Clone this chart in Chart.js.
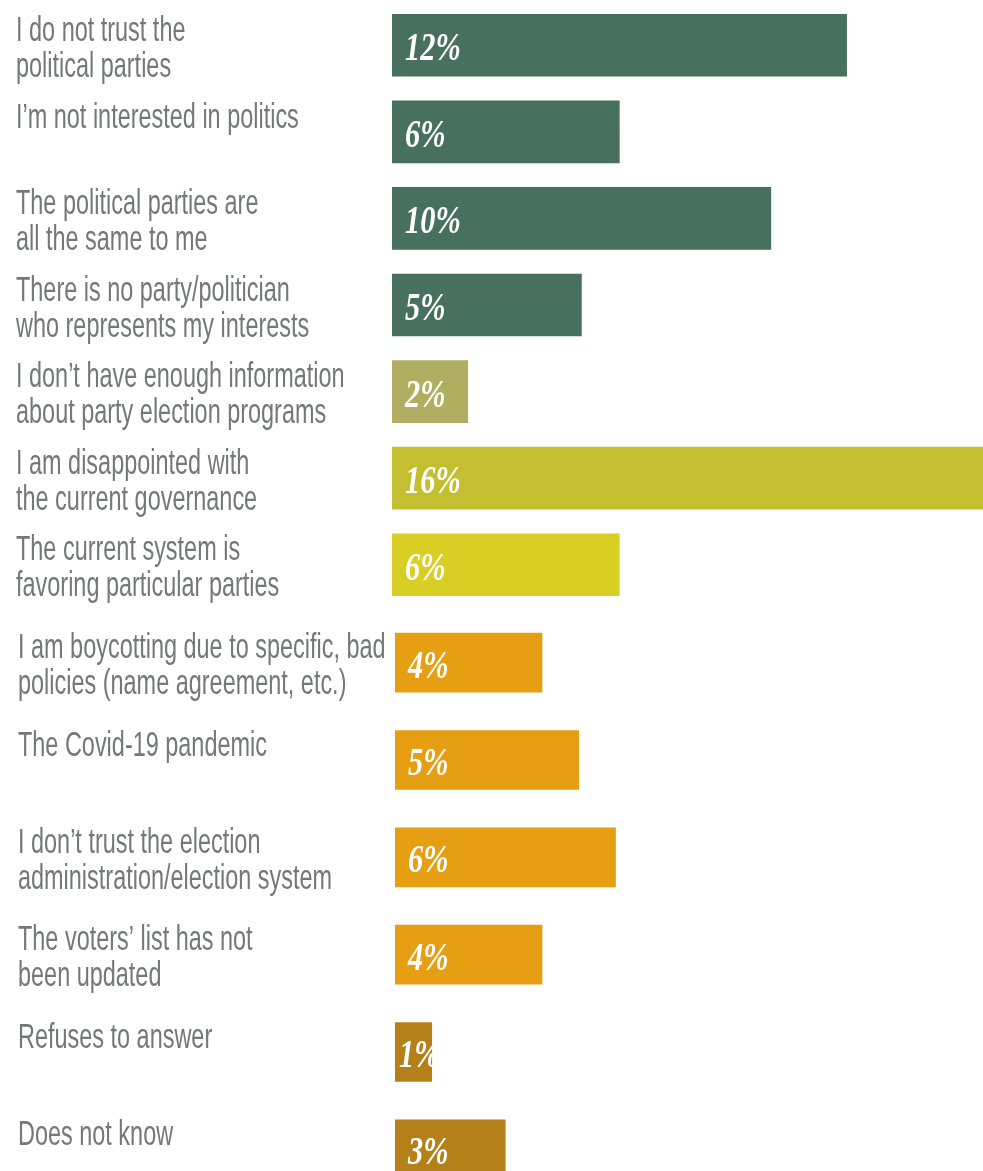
<!DOCTYPE html>
<html>
<head>
<meta charset="utf-8">
<script src="https://cdn.jsdelivr.net/npm/chart.js@4/dist/chart.umd.min.js"></script>
<style>
  body { margin: 0; background: #fff; }
  #page { position: relative; width: 983px; height: 1171px; overflow: hidden; }
  .block { position: absolute; left: 0; width: 983px; }
  #top-block { top: 0; height: 610px; }
  #bottom-block { top: 612px; height: 588px; }
</style>
</head>
<body>
<div id="page">
  <div class="block" id="top-block"><canvas id="reasons-top"></canvas></div>
  <div class="block" id="bottom-block"><canvas id="reasons-bottom"></canvas></div>
</div>
<script>
const reasons = [
    ["I do not trust the", "political parties"],
    "I’m not interested in politics",
    ["The political parties are", "all the same to me"],
    ["There is no party/politician", "who represents my interests"],
    ["I don’t have enough information", "about party election programs"],
    ["I am disappointed with", "the current governance"],
    ["The current system is", "favoring particular parties"],
    ["I am boycotting due to specific, bad", "policies (name agreement, etc.)"],
    "The Covid-19 pandemic",
    ["I don’t trust the election", "administration/election system"],
    ["The voters’ list has not", "been updated"],
    "Refuses to answer",
    "Does not know"
];

const shares = [12, 6, 10, 5, 2, 16, 6, 4, 5, 6, 4, 1, 3];

const barColors = [
    '#47705f', '#47705f', '#47705f', '#47705f',
    '#b0ae60',
    '#c4bf30',
    '#d9ce24',
    '#e69e12', '#e69e12', '#e69e12', '#e69e12',
    '#b4801a', '#b4801a'
];

// the reasons are split in two blocks with slightly different row heights
const TOP_COUNT = 7;


// reason text on the left, condensed; one-line reasons sit at the top of the row
const reasonLabels = {
    id: 'reasonLabels',
    afterDraw(chart, args, opts) {
        const ctx = chart.ctx;
        const yScale = chart.scales.y;
        ctx.save();
        ctx.fillStyle = '#76777a';
        ctx.font = '35px "Liberation Sans", sans-serif';
        ctx.textBaseline = 'middle';
        chart.data.labels.forEach((label, i) => {
            const lines = Array.isArray(label) ? label : [label];
            const first = yScale.getPixelForValue(i) - 14;
            lines.forEach((line, j) => {
                ctx.save();
                ctx.translate(opts.x, first + j * 36);
                ctx.scale(0.67, 1);
                ctx.fillText(line, 0, 0);
                ctx.restore();
            });
        });
        ctx.restore();
    }
};

// white "12%" style text at the start of each bar
const percentLabels = {
    id: 'percentLabels',
    afterDatasetsDraw(chart) {
        const ctx = chart.ctx;
        const meta = chart.getDatasetMeta(0);
        const values = chart.data.datasets[0].data;
        ctx.save();
        ctx.fillStyle = '#ffffff';
        ctx.font = 'italic bold 40px "Liberation Serif", serif';
        ctx.textBaseline = 'alphabetic';
        meta.data.forEach((bar, i) => {
            const text = values[i] + '%';
            const squeeze = 0.76;
            const w = ctx.measureText(text).width * squeeze;
            const barWidth = bar.x - bar.base;
            // short bars: pull the text closer to the bar start
            const x = barWidth < w + 20 ? bar.base + 4 : bar.base + 13;
            ctx.save();
            ctx.translate(x, bar.y + 15);
            ctx.scale(squeeze, 1);
            ctx.fillText(text, 0, 0);
            ctx.restore();
        });
        ctx.restore();
    }
};


function makeChart(canvasId, labels, values, colors, opts) {
    const canvas = document.querySelector(canvasId);
    return new Chart(canvas.getContext('2d'), {
        type: 'bar',
        data: {
            labels: labels,
            datasets: [{
                data: values,
                backgroundColor: colors,
                borderWidth: 0,
                barThickness: opts.barThickness
            }]
        },
        options: {
            indexAxis: 'y',
            responsive: true,
            maintainAspectRatio: false,
            animation: false,
            layout: {
                padding: { left: opts.left, top: 2, bottom: 2, right: 0 }
            },
            plugins: {
                legend: { display: false },
                tooltip: { enabled: false },
                reasonLabels: { x: opts.textX }
            },
            scales: {
                x: {
                    display: false,
                    min: 0,
                    max: opts.max
                },
                y: {
                    display: false
                }
            }
        },
        plugins: [reasonLabels, percentLabels]
    });
}


makeChart('#reasons-top',
    reasons.slice(0, TOP_COUNT), shares.slice(0, TOP_COUNT), barColors.slice(0, TOP_COUNT),
    { left: 392, textX: 16, max: 15.6, barThickness: 62 });

makeChart('#reasons-bottom',
    reasons.slice(TOP_COUNT), shares.slice(TOP_COUNT), barColors.slice(TOP_COUNT),
    { left: 395, textX: 18, max: 16, barThickness: 59 });
</script>
</body>
</html>
